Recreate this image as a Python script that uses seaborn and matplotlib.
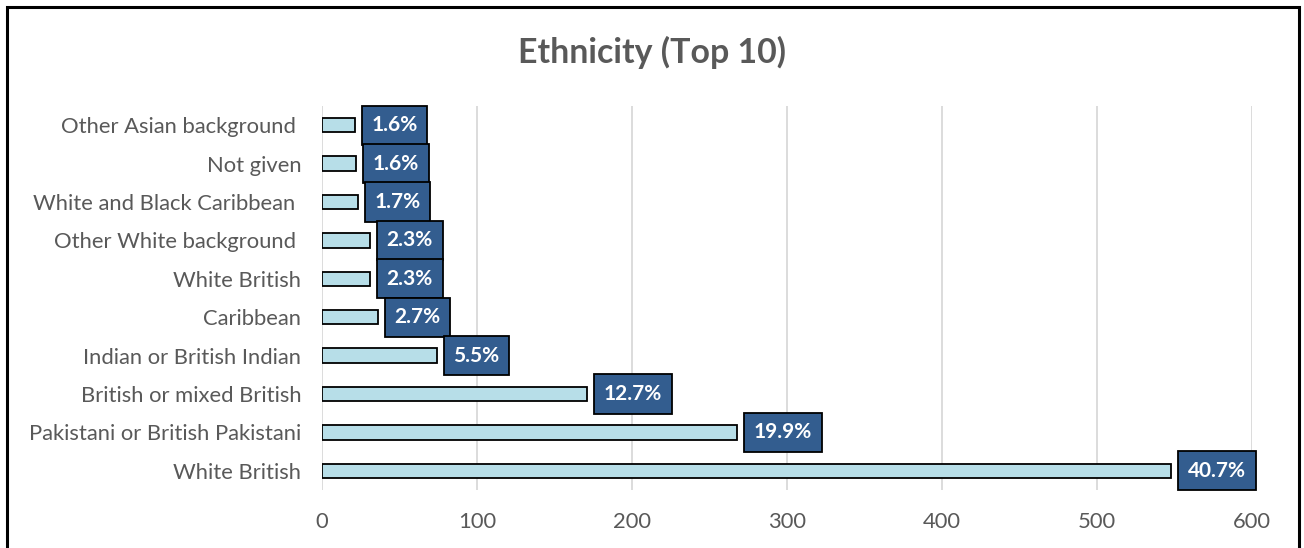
import matplotlib
matplotlib.use("Agg")
import matplotlib.pyplot as plt
import seaborn as sns
import pandas as pd
from matplotlib.patches import Rectangle

# Data (top to bottom as shown)
categories = [
    "Other Asian background ",
    "Not given",
    "White and Black Caribbean ",
    "Other White background ",
    "White British",
    "Caribbean",
    "Indian or British Indian",
    "British or mixed British",
    "Pakistani or British Pakistani",
    "White British",
]
counts = [21, 22, 23, 31, 31, 36, 74, 171, 268, 548]
pct_labels = ["1.6%", "1.6%", "1.7%", "2.3%", "2.3%", "2.7%", "5.5%", "12.7%", "19.9%", "40.7%"]
x_ticks = [0, 100, 200, 300, 400, 500, 600]

sns.set_theme(style="white")
plt.rcParams["font.family"] = ["Lato", "DejaVu Sans"]

fig = plt.figure(figsize=(13.04, 5.48), dpi=100)
ax = fig.add_axes([322 / 1304, 1 - 490 / 548, (1252 - 322) / 1304, (490 - 106) / 548])

df = pd.DataFrame({"id": [f"c{i}" for i in range(len(categories))], "count": counts})
sns.barplot(data=df, x="count", y="id", orient="h", color="#B7DEE8",
            edgecolor="black", linewidth=1.3, width=0.37, ax=ax, saturation=1)

ax.set_xlim(0, 600)
ax.set_xticks(x_ticks)
ax.set_xticklabels([str(t) for t in x_ticks])
ax.set_yticks(range(len(categories)))
ax.set_yticklabels(categories)
ax.set_xlabel("")
ax.set_ylabel("")
ax.grid(axis="x", color="#D9D9D9", linewidth=1.3)
ax.grid(axis="y", visible=False)
ax.set_axisbelow(True)
for s in ax.spines.values():
    s.set_visible(False)
ax.tick_params(axis="y", length=0, pad=15, labelsize=15.8, labelcolor="#595959")
ax.tick_params(axis="x", length=0, pad=16, labelsize=15.8, labelcolor="#595959")

for i, (v, lab) in enumerate(zip(counts, pct_labels)):
    ax.annotate(lab, xy=(v, i), xytext=(12, 0), textcoords="offset points",
                ha="left", va="center", color="white", fontsize=15, fontweight="bold",
                bbox=dict(boxstyle="square,pad=0.46", fc="#335D8F", ec="black", lw=1.3))

fig.text(0.5, 1 - 52 / 548, "Ethnicity (Top 10)", ha="center", va="center",
         fontsize=24.4, fontweight="bold", color="#595959")

fig.patches.append(Rectangle((7 / 1304, -0.05), (1299 - 7) / 1304, 1.05 - 7 / 548,
                             transform=fig.transFigure, fill=False, ec="black", lw=2.2))

fig.savefig("out.png", dpi=100)
